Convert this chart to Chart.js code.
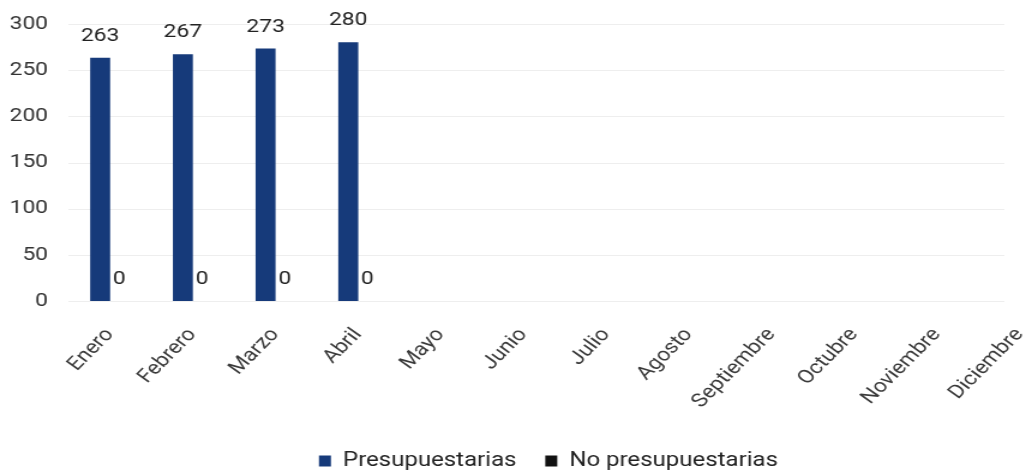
<!DOCTYPE html>
<html>
<head>
<meta charset="utf-8">
<script src="https://cdn.jsdelivr.net/npm/chart.js@4.4.1/dist/chart.umd.min.js"></script>
<style>
  html, body { margin: 0; padding: 0; background: #fff; overflow: hidden; }
  #wrap { width: 910px; height: 473px; transform: scaleX(1.2); transform-origin: 0 0; }
</style>
</head>
<body>
<div id="wrap"><canvas id="chart"></canvas></div>
<script>
const months = ['Enero', 'Febrero', 'Marzo', 'Abril', 'Mayo', 'Junio', 'Julio',
    'Agosto', 'Septiembre', 'Octubre', 'Noviembre', 'Diciembre'];
const presupuestarias = [263, 267, 273, 280, null, null, null, null, null, null, null, null];
const noPresupuestarias = [0, 0, 0, 0, null, null, null, null, null, null, null, null];
const yTicks = [0, 50, 100, 150, 200, 250, 300];

// horizontal grid lines stop short of the right edge, like the original
const gridEnd = 837;
const shortGrid = {
    id: 'shortGrid',
    beforeDatasetsDraw(chart) {
        const c = chart.ctx;
        const y = chart.scales.y;
        c.save();
        c.strokeStyle = '#eeeeee';
        c.lineWidth = 1;
        yTicks.forEach(v => {
            const py = Math.round(y.getPixelForValue(v)) + 0.5;
            c.beginPath();
            c.moveTo(chart.chartArea.left, py);
            c.lineTo(gridEnd, py);
            c.stroke();
        });
        c.restore();
    }
};

// value labels above each bar
const barLabels = {
    id: 'barLabels',
    afterDatasetsDraw(chart) {
        const c = chart.ctx;
        c.save();
        c.font = '19px Roboto';
        c.fillStyle = '#222';
        c.textAlign = 'center';
        c.textBaseline = 'alphabetic';
        chart.data.datasets.forEach((ds, i) => {
            chart.getDatasetMeta(i).data.forEach((bar, j) => {
                const v = ds.data[j];
                if (v === null || v === undefined) return;
                c.fillText(String(v), bar.x, bar.y - 17);
            });
        });
        c.restore();
    }
};

// nudge the legend a bit right and down
const legendShift = {
    id: 'legendShift',
    afterLayout(chart) {
        const lg = chart.legend;
        lg.left += 15; lg.right += 15;
        lg.top += 8; lg.bottom += 8;
    }
};

const ctx = document.getElementById('chart').getContext('2d');

const chart = new Chart(ctx, {
    type: 'bar',
    data: {
        labels: months,
        datasets: [{
            label: 'Presupuestarias',
            data: presupuestarias,
            backgroundColor: '#163a7a',
            barThickness: 16
        }, {
            label: 'No presupuestarias',
            data: noPresupuestarias,
            backgroundColor: c => (c.raw === 0 ? 'rgba(0,0,0,0)' : '#111111'),
            barThickness: 16
        }]
    },
    options: {
        responsive: true,
        maintainAspectRatio: false,
        animation: false,
        layout: { padding: { top: 24, right: 26, bottom: 0, left: 0 } },
        datasets: { bar: { categoryPercentage: 0.7 } },
        scales: {
            x: {
                grid: { display: false },
                border: { display: false },
                afterFit: scale => { scale.height = 118; },
                ticks: {
                    color: '#3a3a3a',
                    padding: 15,
                    font: { family: 'Roboto', size: 19 },
                    minRotation: 50,
                    maxRotation: 50,
                    autoSkip: false
                }
            },
            y: {
                min: 0,
                max: 300,
                afterBuildTicks: scale => { scale.ticks = yTicks.map(v => ({ value: v })); },
                afterFit: scale => { scale.width = 57; scale.paddingTop = 0; scale.paddingBottom = 0; },
                grid: { display: false, drawTicks: false },
                border: { display: false },
                ticks: {
                    color: '#333',
                    padding: 17,
                    font: { family: 'Roboto', size: 19 }
                }
            }
        },
        plugins: {
            legend: {
                position: 'bottom',
                labels: {
                    color: '#222',
                    font: { family: 'Roboto', size: 20 },
                    boxWidth: 10,
                    boxHeight: 11,
                    padding: 24,
                    generateLabels: ch => Chart.defaults.plugins.legend.labels.generateLabels(ch).map((it, i) => {
                        it.fillStyle = i === 0 ? '#163a7a' : '#111111';
                        it.strokeStyle = it.fillStyle;
                        return it;
                    })
                }
            },
            tooltip: { enabled: false }
        }
    },
    plugins: [shortGrid, barLabels, legendShift]
});
</script>
</body>
</html>
